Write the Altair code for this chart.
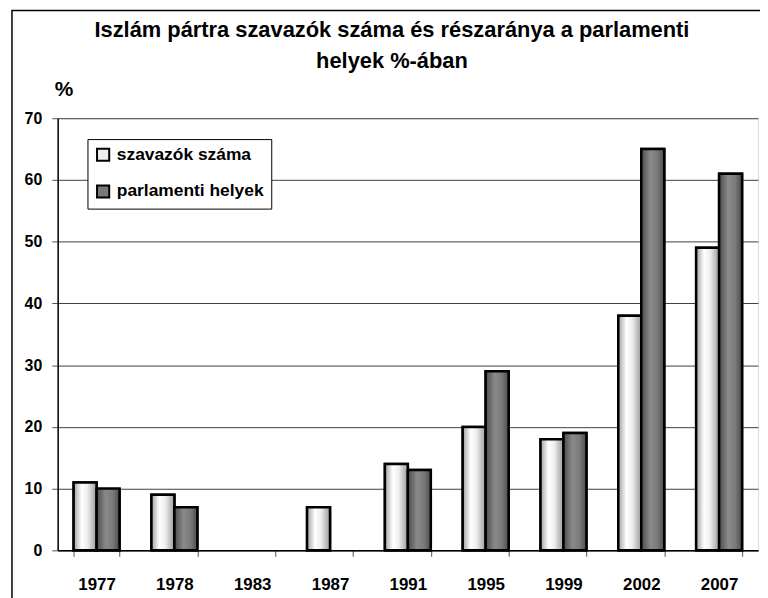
import altair as alt
import pandas as pd

years = ["1977", "1978", "1983", "1987", "1991", "1995", "1999", "2002", "2007"]
votes = [11, 9, 0, 7, 14, 20, 18, 38, 49]
seats = [10, 7, 0, 0, 13, 29, 19, 65, 61]
series = ["szavazók száma", "parlamenti helyek"]
y_ticks = [0, 10, 20, 30, 40, 50, 60, 70]

rows = []
for y, v, s in zip(years, votes, seats):
    rows.append({"year": y, "series": series[0], "value": v})
    rows.append({"year": y, "series": series[1], "value": s})
df = pd.DataFrame(rows)

FONT = "Liberation Sans"
W, H = 705, 435

grad_light = {
    "gradient": "linear", "x1": 0, "y1": 0, "x2": 1, "y2": 0,
    "stops": [
        {"offset": 0, "color": "#a0a0a0"},
        {"offset": 0.35, "color": "#ffffff"},
        {"offset": 0.6, "color": "#eeeeee"},
        {"offset": 1, "color": "#9a9a9a"},
    ],
}
grad_dark = {
    "gradient": "linear", "x1": 0, "y1": 0, "x2": 1, "y2": 0,
    "stops": [
        {"offset": 0, "color": "#4c4c4c"},
        {"offset": 0.4, "color": "#8a8a8a"},
        {"offset": 0.7, "color": "#7a7a7a"},
        {"offset": 1, "color": "#4c4c4c"},
    ],
}

x_enc = alt.X(
    "year:N", sort=years, title=None,
    scale=alt.Scale(domain=years, paddingInner=0.41, paddingOuter=0.205),
    axis=alt.Axis(
        labelAngle=0, labelFont=FONT, labelFontSize=17, labelFontWeight="bold",
        labelColor="black", labelPadding=20, tickBand="extent", tickSize=6,
        tickColor="#555555", domainColor="black", domainWidth=1.5, grid=False,
    ),
)
xo_enc = alt.XOffset("series:N", sort=series, scale=alt.Scale(domain=series))
y_enc = alt.Y(
    "value:Q",
    scale=alt.Scale(domain=[0, 70], nice=False),
    axis=alt.Axis(
        values=y_ticks, title="%", titleAngle=0, titleFont=FONT, titleFontSize=21,
        titleFontWeight="bold", titleColor="black", titleX=6, titleY=-19,
        titleAlign="center", titleBaseline="bottom",
        labelFont=FONT, labelFontSize=16, labelFontWeight="bold", labelColor="black",
        labelPadding=10, tickSize=6, tickColor="#555555", domainColor="black",
        domainWidth=1.5, gridColor="#404040", gridWidth=1,
    ),
)

base = alt.Chart(df).transform_filter(alt.datum.value > 0)

legend_bars = base.mark_bar(stroke="black", strokeWidth=2.5).encode(
    x=x_enc, xOffset=xo_enc, y=y_enc,
    color=alt.Color(
        "series:N", sort=series,
        scale=alt.Scale(domain=series, range=["#eeeeee", "#787878"]),
        legend=alt.Legend(
            title=None, orient="none", legendX=30, legendY=21,
            strokeColor="black", fillColor="white", padding=7,
            symbolType="square", symbolSize=150, symbolStrokeColor="black",
            symbolStrokeWidth=2, symbolOpacity=1, rowPadding=16, labelOffset=5,
            labelFont=FONT, labelFontSize=17.5, labelFontWeight="bold",
            labelColor="black",
        ),
    ),
)

grad_bars = base.mark_bar(stroke="black", strokeWidth=2.5).encode(
    x=x_enc, xOffset=xo_enc, y=y_enc,
    fill=alt.condition(alt.datum.series == series[0],
                       alt.value(grad_light), alt.value(grad_dark)),
)

frame = alt.Chart(alt.Data(values=[{}])).mark_rect(
    fill=None, stroke="black", strokeWidth=1.5
).encode(
    x=alt.value(-46), x2=alt.value(W + 60),
    y=alt.value(-108.5), y2=alt.value(H + 100),
)

chart = alt.layer(frame, legend_bars, grad_bars).properties(
    width=W, height=H,
    autosize=alt.AutoSizeParams(type="none"),
    padding={"left": 50, "top": 109, "right": 2, "bottom": 46},
    title=alt.Title(
        text=["Iszlám pártra szavazók száma és részaránya a parlamenti",
              "helyek %-ában"],
        font=FONT, fontSize=22, fontWeight="bold", color="black",
        anchor="middle", offset=2, lineHeight=32, dx=-16, dy=66,
    ),
).configure_view(stroke="#808080", strokeWidth=1).configure(background="white")

chart.save("out.html", embed_options={"renderer": "svg", "actions": False})
